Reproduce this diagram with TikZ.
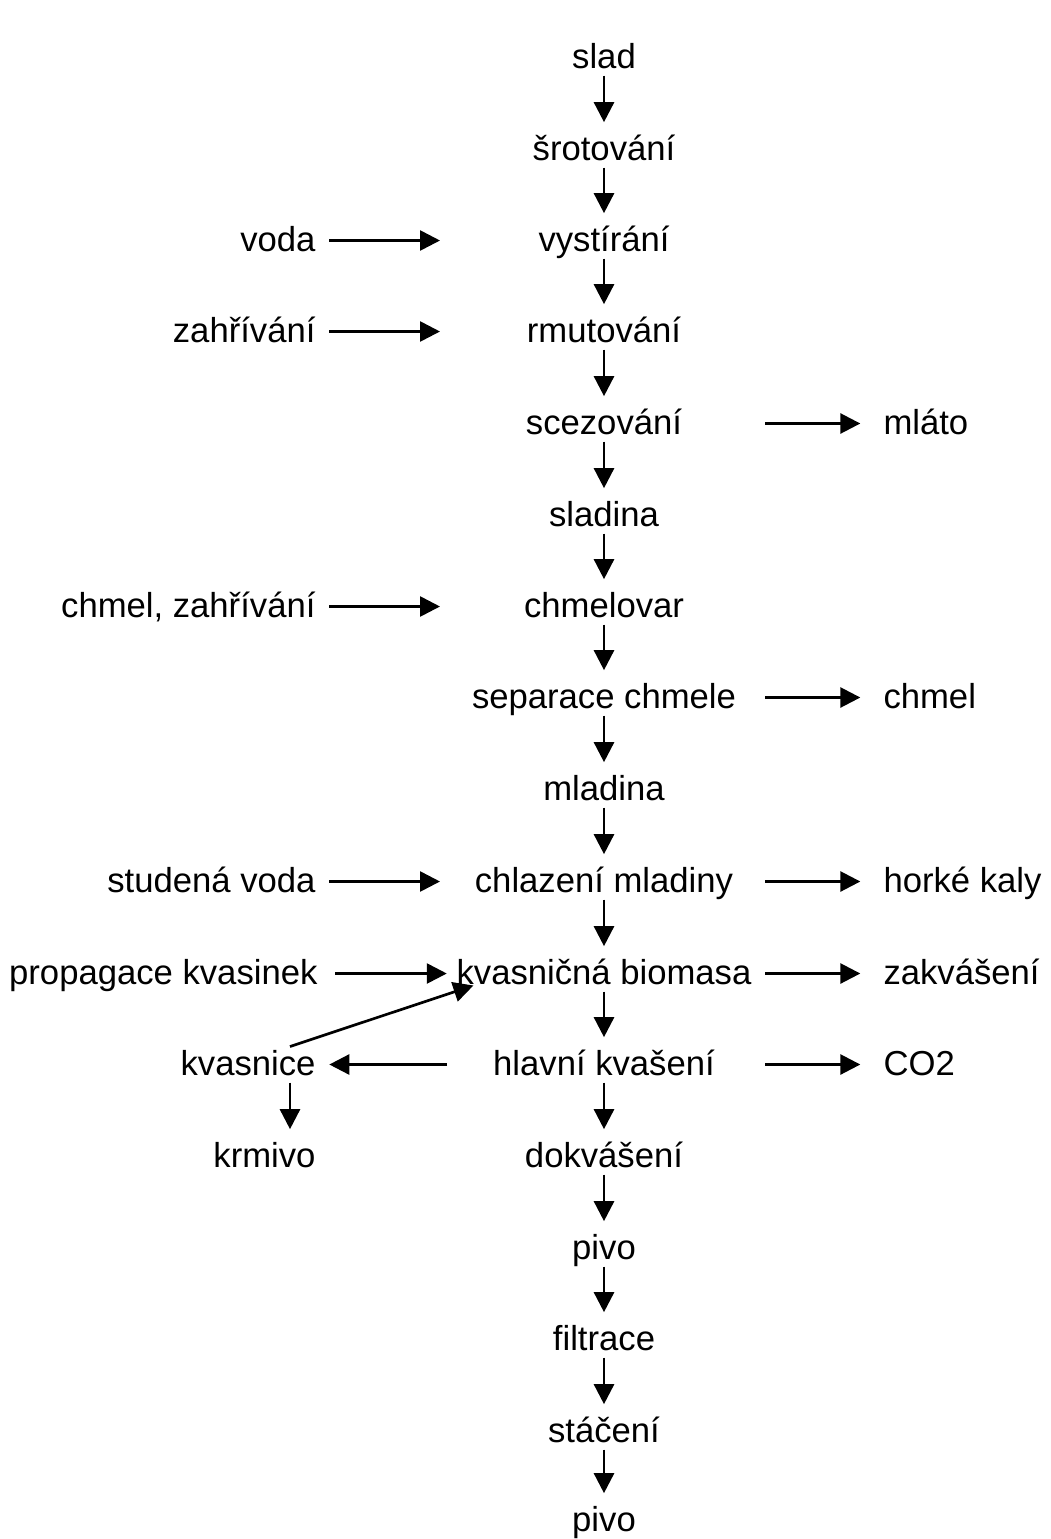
\documentclass[tikz,border=0pt]{standalone}
\usepackage{fontspec}
\newfontfamily\flowfont{Liberation Sans}
\usetikzlibrary{arrows.meta}

\tikzset{every picture/.style={line width=0.75pt}}
\tikzset{
  txt/.style={inner sep=0pt, text height=21pt, text depth=5.25pt, font=\flowfont\fontsize{26}{30}\selectfont},
  flow/.style={line width=2pt, -{Triangle[length=15pt,width=15pt]}, shorten >=7pt},
}

\begin{document}
\begin{tikzpicture}[x=0.75pt,y=0.75pt,yscale=-1,xscale=1]
        \useasboundingbox (0,0) rectangle (1050,1539);
        \coordinate (lin) at (440,0);
        \coordinate (lout) at (447,0);
        \coordinate (rout) at (765,0);
        \coordinate (kx) at (290,0);

        % main line
        \draw (604,68) node [txt, anchor=base] (slad) {slad};
        \draw (604,160) node [txt, anchor=base] (srot) {šrotování};
        \draw (604,251) node [txt, anchor=base] (vystir) {vystírání};
        \draw (604,342) node [txt, anchor=base] (rmut) {rmutování};
        \draw (604,434) node [txt, anchor=base] (scez) {scezování};
        \draw (604,526) node [txt, anchor=base] (sladina) {sladina};
        \draw (604,617) node [txt, anchor=base] (chmelovar) {chmelovar};
        \draw (604,708) node [txt, anchor=base] (separ) {separace chmele};
        \draw (604,800) node [txt, anchor=base] (mladina) {mladina};
        \draw (604,892) node [txt, anchor=base] (chlaz) {chlazení mladiny};
        \draw (604,984) node [txt, anchor=base] (kvas) {kvasničná biomasa};
        \draw (604,1075) node [txt, anchor=base] (hlavni) {hlavní kvašení};
        \draw (604,1167) node [txt, anchor=base] (dokvas) {dokvášení};
        \draw (604,1259) node [txt, anchor=base] (pivoa) {pivo};
        \draw (604,1350) node [txt, anchor=base] (filtr) {filtrace};
        \draw (604,1442) node [txt, anchor=base] (stac) {stáčení};
        \draw (604,1531) node [txt, anchor=base] (pivob) {pivo};

        % inputs
        \draw (316,251) node [txt, anchor=base east] (voda) {voda};
        \draw (316,342) node [txt, anchor=base east] (zahr) {zahřívání};
        \draw (316,617) node [txt, anchor=base east] (chzahr) {chmel, zahřívání};
        \draw (316,892) node [txt, anchor=base east] (studvoda) {studená voda};
        \draw (318,984) node [txt, anchor=base east] (prop) {propagace kvasinek};
        \draw (316,1075) node [txt, anchor=base east] (kvasn) {kvasnice};
        \draw (316,1167) node [txt, anchor=base east] (krmivo) {krmivo};

        % outputs
        \draw (883,434) node [txt, anchor=base west] (mlato) {mláto};
        \draw (883,708) node [txt, anchor=base west] (chmel) {chmel};
        \draw (883,892) node [txt, anchor=base west] (kaly) {horké kaly};
        \draw (883,984) node [txt, anchor=base west] (zakvas) {zakvášení};
        \draw (883,1075) node [txt, anchor=base west] (cotwo) {CO2};

        \draw [flow] (slad) -- (srot);
        \draw [flow] (srot) -- (vystir);
        \draw [flow] (vystir) -- (rmut);
        \draw [flow] (rmut) -- (scez);
        \draw [flow] (scez) -- (sladina);
        \draw [flow] (sladina) -- (chmelovar);
        \draw [flow] (chmelovar) -- (separ);
        \draw [flow] (separ) -- (mladina);
        \draw [flow] (mladina) -- (chlaz);
        \draw [flow] (chlaz) -- (kvas);
        \draw [flow] (kvas) -- (hlavni);
        \draw [flow] (hlavni) -- (dokvas);
        \draw [flow] (dokvas) -- (pivoa);
        \draw [flow] (pivoa) -- (filtr);
        \draw [flow] (filtr) -- (stac);
        \draw [flow] (stac) -- (pivob);

        \draw [flow, shorten <=10pt, shorten >=0pt] (voda) -- (voda -| lin);
        \draw [flow, shorten <=10pt, shorten >=0pt] (zahr) -- (zahr -| lin);
        \draw [flow, shorten <=10pt, shorten >=0pt] (chzahr) -- (chzahr -| lin);
        \draw [flow, shorten <=10pt, shorten >=0pt] (studvoda) -- (studvoda -| lin);
        \draw [flow, shorten <=13pt] (prop) -- (kvas);

        \draw [flow, shorten >=17pt] (scez -| rout) -- (mlato);
        \draw [flow, shorten >=17pt] (separ -| rout) -- (chmel);
        \draw [flow, shorten >=17pt] (chlaz -| rout) -- (kaly);
        \draw [flow, shorten >=17pt] (kvas -| rout) -- (zakvas);
        \draw [flow, shorten >=17pt] (hlavni -| rout) -- (cotwo);

        \draw [flow, shorten >=10pt] (hlavni -| lout) -- (kvasn);
        \draw [flow] (kvasn.south -| kx) -- (krmivo.north -| kx);
        \draw [flow, shorten >=0pt] (kvasn.north -| kx) -- ([xshift=13pt,yshift=-4.5pt]kvas.south west);
    \end{tikzpicture}
\end{document}
